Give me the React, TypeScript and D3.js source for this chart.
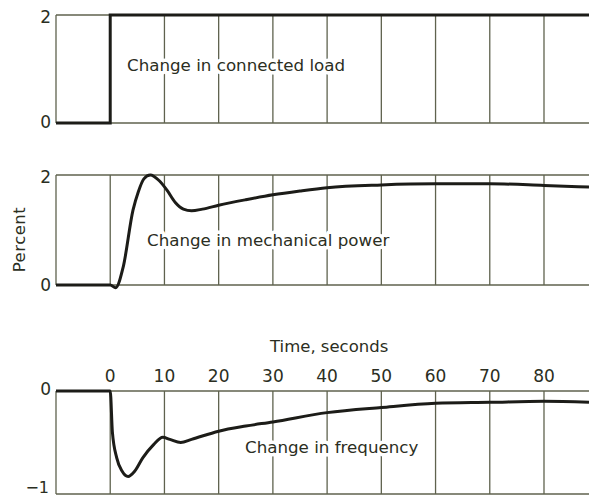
import React from "react";
import * as d3 from "d3";

// ---- data ----
const loadTime = [-10, 0, 0, 88.3];
const loadValue = [0, 0, 2, 2];

const powerTime = [-10, 0, 1, 2.4, 4.2, 5.2, 6.2, 7.4, 9, 10.5, 12, 13.5, 15, 17, 20, 25, 30, 35, 40, 50, 60, 70, 80, 88.3];
const powerValue = [0, 0, -0.05, 0.33, 1.36, 1.7, 1.93, 2.0, 1.9, 1.72, 1.5, 1.38, 1.35, 1.38, 1.45, 1.55, 1.64, 1.71, 1.77, 1.82, 1.84, 1.84, 1.81, 1.78];

const freqTime = [-10, 0, 0.4, 1.2, 2.2, 3.3, 4.5, 6, 8, 9.7, 11, 13, 15, 20, 25, 30, 40, 50, 60, 70, 80, 88.3];
const freqValue = [0, 0, -0.4, -0.65, -0.78, -0.83, -0.78, -0.65, -0.52, -0.45, -0.47, -0.5, -0.47, -0.39, -0.34, -0.3, -0.21, -0.16, -0.12, -0.11, -0.1, -0.11];

const gridTimes = [-10, 0, 10, 20, 30, 40, 50, 60, 70, 80];
const timeTickLabels = [0, 10, 20, 30, 40, 50, 60, 70, 80];

const W = 589;
const H = 498;
const FONT = "'DejaVu Sans', sans-serif";
const TEXT = "#2b2e22";
const GRID = "#5f624e";
const CURVE = "#1c1c18";

const x = d3.scaleLinear().domain([-10, 88.3]).range([56, 589]);
const yTop = d3.scaleLinear().domain([0, 2]).range([123, 15]);
const yMid = d3.scaleLinear().domain([0, 2]).range([285, 175]);
const yBot = d3.scaleLinear().domain([-1, 0]).range([494, 391]);

function Panel({ y, lo, hi }: { y: d3.ScaleLinear<number, number>; lo: number; hi: number }) {
  return (
    <g stroke={GRID} strokeWidth={1.3} fill="none">
      <line x1={x(-10)} x2={W} y1={y(hi)} y2={y(hi)} />
      <line x1={x(-10)} x2={W} y1={y(lo)} y2={y(lo)} />
      {gridTimes.map((t) => (
        <line key={t} x1={x(t)} x2={x(t)} y1={y(hi)} y2={y(lo)} />
      ))}
    </g>
  );
}

function curvePath(ts: number[], vs: number[], y: d3.ScaleLinear<number, number>, curve: d3.CurveFactory) {
  const pts = ts.map((t, i) => [t, vs[i]] as [number, number]);
  return d3
    .line<[number, number]>()
    .x((d) => x(d[0]))
    .y((d) => y(d[1]))
    .curve(curve)(pts) as string;
}

const labelStyle = {
  fontFamily: FONT,
  fontSize: 16.7,
  fill: TEXT,
  stroke: "#ffffff",
  strokeWidth: 7,
  paintOrder: "stroke" as const,
  strokeLinejoin: "round" as const,
};

const tickStyle = { fontFamily: FONT, fontSize: 17, fill: TEXT };

export default function App() {
  return (
    <svg
      width={W}
      height={H}
      style={{ position: "absolute", left: 0, top: 0, background: "#fff" }}
    >
      <Panel y={yTop} lo={0} hi={2} />
      <Panel y={yMid} lo={0} hi={2} />
      <Panel y={yBot} lo={-1} hi={0} />

      {/* in-panel labels (with white halo breaking grid lines) */}
      <text x={127} y={71} {...labelStyle}>Change in connected load</text>
      <text x={147} y={246} {...labelStyle}>Change in mechanical power</text>
      <text x={245} y={453} {...labelStyle}>Change in frequency</text>

      {/* curves */}
      <path d={curvePath(loadTime, loadValue, yTop, d3.curveLinear)} fill="none" stroke={CURVE} strokeWidth={3} />
      <path d={curvePath(powerTime, powerValue, yMid, d3.curveMonotoneX)} fill="none" stroke={CURVE} strokeWidth={3} strokeLinejoin="round" />
      <path d={curvePath(freqTime, freqValue, yBot, d3.curveMonotoneX)} fill="none" stroke={CURVE} strokeWidth={3} strokeLinejoin="round" />

      {/* y tick labels */}
      <text x={51} y={23} textAnchor="end" {...tickStyle}>2</text>
      <text x={51} y={128} textAnchor="end" {...tickStyle}>0</text>
      <text x={51} y={183} textAnchor="end" {...tickStyle}>2</text>
      <text x={51} y={291} textAnchor="end" {...tickStyle}>0</text>
      <text x={51} y={395} textAnchor="end" {...tickStyle}>0</text>
      <text x={49} y={493} textAnchor="end" {...tickStyle} fontSize={16}>−1</text>

      {/* Percent */}
      <text
        transform="translate(25,239.5) rotate(-90)"
        textAnchor="middle"
        fontFamily={FONT}
        fontSize={16.5}
        fill={TEXT}
        letterSpacing={0.5}
      >
        Percent
      </text>

      {/* time axis */}
      <text x={270} y={352} fontFamily={FONT} fontSize={16.5} fill={TEXT}>Time, seconds</text>
      {timeTickLabels.map((t) => (
        <text key={t} x={x(t)} y={382} textAnchor="middle" {...tickStyle}>
          {t}
        </text>
      ))}
    </svg>
  );
}
